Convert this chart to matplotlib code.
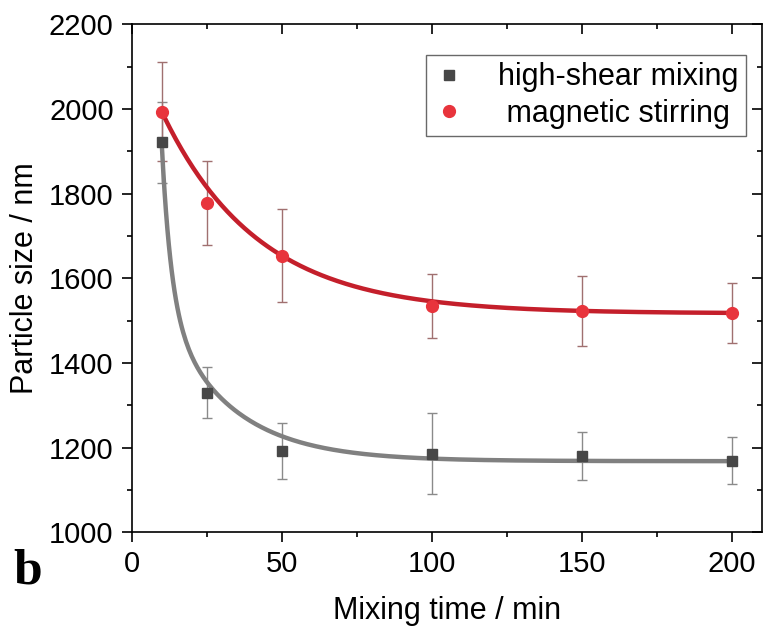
import numpy as np
import matplotlib
matplotlib.use('Agg')
import matplotlib.pyplot as plt

# data
mix_time = [10, 25, 50, 100, 150, 200]
shear_size = [1921, 1330, 1192, 1186, 1180, 1169]
shear_err = [95, 60, 65, 96, 57, 55]
stir_size = [1994, 1778, 1653, 1534, 1523, 1518]
stir_err = [118, 100, 110, 75, 82, 70]

# exponential decay fits (offset, amplitudes, time constants)
shear_fit = dict(y0=1168, a1=388, t1=3.2, a2=364, t2=22.0)
stir_fit = dict(y0=1517, a1=477, t1=32.0)

x_ticks = [0, 50, 100, 150, 200]
y_ticks = [1000, 1200, 1400, 1600, 1800, 2000, 2200]

plt.rcParams['font.family'] = ['Liberation Sans', 'DejaVu Sans']

fig = plt.figure(figsize=(7.63, 6.33), dpi=100)
ax = fig.add_axes([0.1726, 0.1591, 0.8257, 0.8025])

t = np.linspace(10, 200, 400)
shear_curve = (shear_fit['y0'] + shear_fit['a1'] * np.exp(-(t - 10) / shear_fit['t1'])
               + shear_fit['a2'] * np.exp(-(t - 10) / shear_fit['t2']))
stir_curve = stir_fit['y0'] + stir_fit['a1'] * np.exp(-(t - 10) / stir_fit['t1'])

ax.errorbar(mix_time, shear_size, yerr=shear_err, fmt='none', ecolor='#8a8a8a',
            elinewidth=1.0, capsize=3.5, capthick=1.0, zorder=1)
ax.errorbar(mix_time, stir_size, yerr=stir_err, fmt='none', ecolor='#a07070',
            elinewidth=1.0, capsize=3.5, capthick=1.0, zorder=1)

ax.plot(t, shear_curve, color='#808080', lw=3.2, zorder=2)
ax.plot(t, stir_curve, color='#c41f2b', lw=3.2, zorder=2)

ax.plot(mix_time, shear_size, 's', color='#474747', ms=7.5, ls='none',
        label='high-shear mixing', zorder=3)
ax.plot(mix_time, stir_size, 'o', color='#e8343c', ms=8.5, ls='none',
        label=' magnetic stirring', zorder=3)

ax.set_xlim(0, 210)
ax.set_ylim(1000, 2200)
ax.set_xticks(x_ticks)
ax.set_yticks(y_ticks)
ax.set_xticks(np.arange(25, 210, 50), minor=True)
ax.set_yticks(np.arange(1100, 2200, 200), minor=True)

for side in ['left', 'right', 'top', 'bottom']:
    ax.spines[side].set_linewidth(1.2)

ax.tick_params(which='major', direction='out', length=7, width=1.2, labelsize=21, pad=6)
ax.tick_params(which='minor', direction='out', length=3.5, width=1.2)
ax.tick_params(which='both', top=True, right=True)
# top and right ticks point inward
for tk in ax.xaxis.get_major_ticks() + ax.xaxis.get_minor_ticks():
    tk.tick2line.set_marker(3)
for tk in ax.yaxis.get_major_ticks() + ax.yaxis.get_minor_ticks():
    tk.tick2line.set_marker(0)

ax.set_xlabel('Mixing time / min', fontsize=22)
ax.set_ylabel('Particle size / nm', fontsize=22)
ax.xaxis.set_label_coords(0.5, -0.125)
ax.yaxis.set_label_coords(-0.145, 0.5)

leg = ax.legend(loc='upper right', bbox_to_anchor=(0.975, 0.94), fontsize=22,
                frameon=True, fancybox=False, handlelength=1.0, handletextpad=1.1,
                borderpad=0.25, labelspacing=0.2, borderaxespad=0)
leg.get_frame().set_edgecolor('#444444')
leg.get_frame().set_linewidth(1.0)

fig.text(13 / 763, 1 - 584 / 633, 'b', fontsize=37, fontweight='bold',
         family=['Liberation Serif', 'DejaVu Serif'], ha='left', va='baseline')

fig.savefig('out.png', dpi=100)
